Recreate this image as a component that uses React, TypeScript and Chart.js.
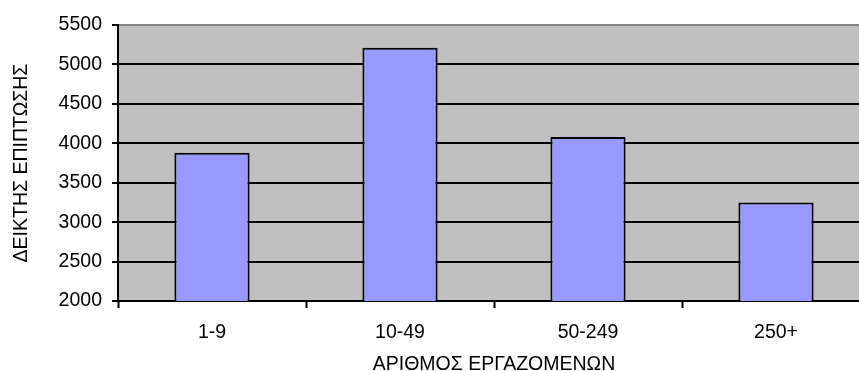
import React, { useEffect, useRef } from 'react';
import { Chart, registerables } from 'chart.js';

Chart.register(...registerables);

// Incidence index by company size (number of employees)
const categories = ['1-9', '10-49', '50-249', '250+'];
const incidence = [3880, 5210, 4080, 3250];
const yMin = 2000;
const yMax = 5500;
const yStep = 500;
const xTitle = 'ΑΡΙΘΜΟΣ ΕΡΓΑΖΟΜΕΝΩΝ';
const yTitle = 'ΔΕΙΚΤΗΣ ΕΠΙΠΤΩΣΗΣ';

const FONT = "'Liberation Sans', Arial, sans-serif";
const FONT_SIZE = 19.5;

// Grey plot-area fill behind the bars
const plotBackground = {
  id: 'plotBackground',
  beforeDraw(chart: any) {
    const { ctx, chartArea } = chart;
    if (!chartArea) return;
    ctx.save();
    ctx.fillStyle = '#C0C0C0';
    ctx.fillRect(chartArea.left, chartArea.top, chartArea.right - chartArea.left, chartArea.bottom - chartArea.top);
    ctx.restore();
  },
};

export default function App() {
  const canvasRef = useRef<HTMLCanvasElement | null>(null);

  useEffect(() => {
    const canvas = canvasRef.current;
    if (!canvas) return;
    const chart = new Chart(canvas, {
      type: 'bar',
      data: {
        labels: categories,
        datasets: [
          {
            data: incidence,
            backgroundColor: '#9999FF',
            borderColor: '#000000',
            borderWidth: 2,
            borderSkipped: false,
            barPercentage: 0.4,
            categoryPercentage: 1,
          },
        ],
      },
      options: {
        responsive: false,
        animation: false,
        devicePixelRatio: 1,
        layout: { padding: { top: 25, right: 10, left: 0, bottom: 0 } },
        plugins: {
          legend: { display: false },
          tooltip: { enabled: false },
        },
        scales: {
          x: {
            offset: true,
            grid: {
              offset: true,
              drawOnChartArea: false,
              drawTicks: true,
              tickLength: 7,
              tickColor: '#000000',
              tickWidth: 2,
            },
            border: { color: '#000000', width: 2 },
            ticks: {
              color: '#000000',
              padding: 12.5,
              font: { family: FONT, size: FONT_SIZE },
            },
            title: {
              display: true,
              text: xTitle,
              color: '#000000',
              font: { family: FONT, size: FONT_SIZE },
              padding: { top: 0, bottom: 0 },
            },
            afterFit(scale: any) {
              scale.height = 75;
            },
          },
          y: {
            min: yMin,
            max: yMax,
            ticks: {
              stepSize: yStep,
              color: '#000000',
              padding: 10,
              font: { family: FONT, size: FONT_SIZE },
              callback: (v: any) => String(v),
            },
            grid: {
              color: (c: any) => (c.tick && c.tick.value === yMax ? '#808080' : '#000000'),
              lineWidth: 2,
              tickLength: 6,
              tickColor: '#000000',
              tickWidth: 2,
            },
            border: { color: '#000000', width: 2 },
            title: {
              display: true,
              text: yTitle,
              color: '#000000',
              font: { family: FONT, size: FONT_SIZE },
              padding: { top: 10, bottom: 0 },
            },
            afterFit(scale: any) {
              scale.width = 118;
            },
          },
        },
      },
      plugins: [plotBackground],
    });
    return () => chart.destroy();
  }, []);

  return (
    <div
      style={{
        position: 'fixed',
        left: 0,
        top: 0,
        width: 859,
        height: 371,
        overflow: 'hidden',
        background: '#FFFFFF',
      }}
    >
      <canvas ref={canvasRef} width={880} height={376} style={{ display: 'block' }} />
    </div>
  );
}
